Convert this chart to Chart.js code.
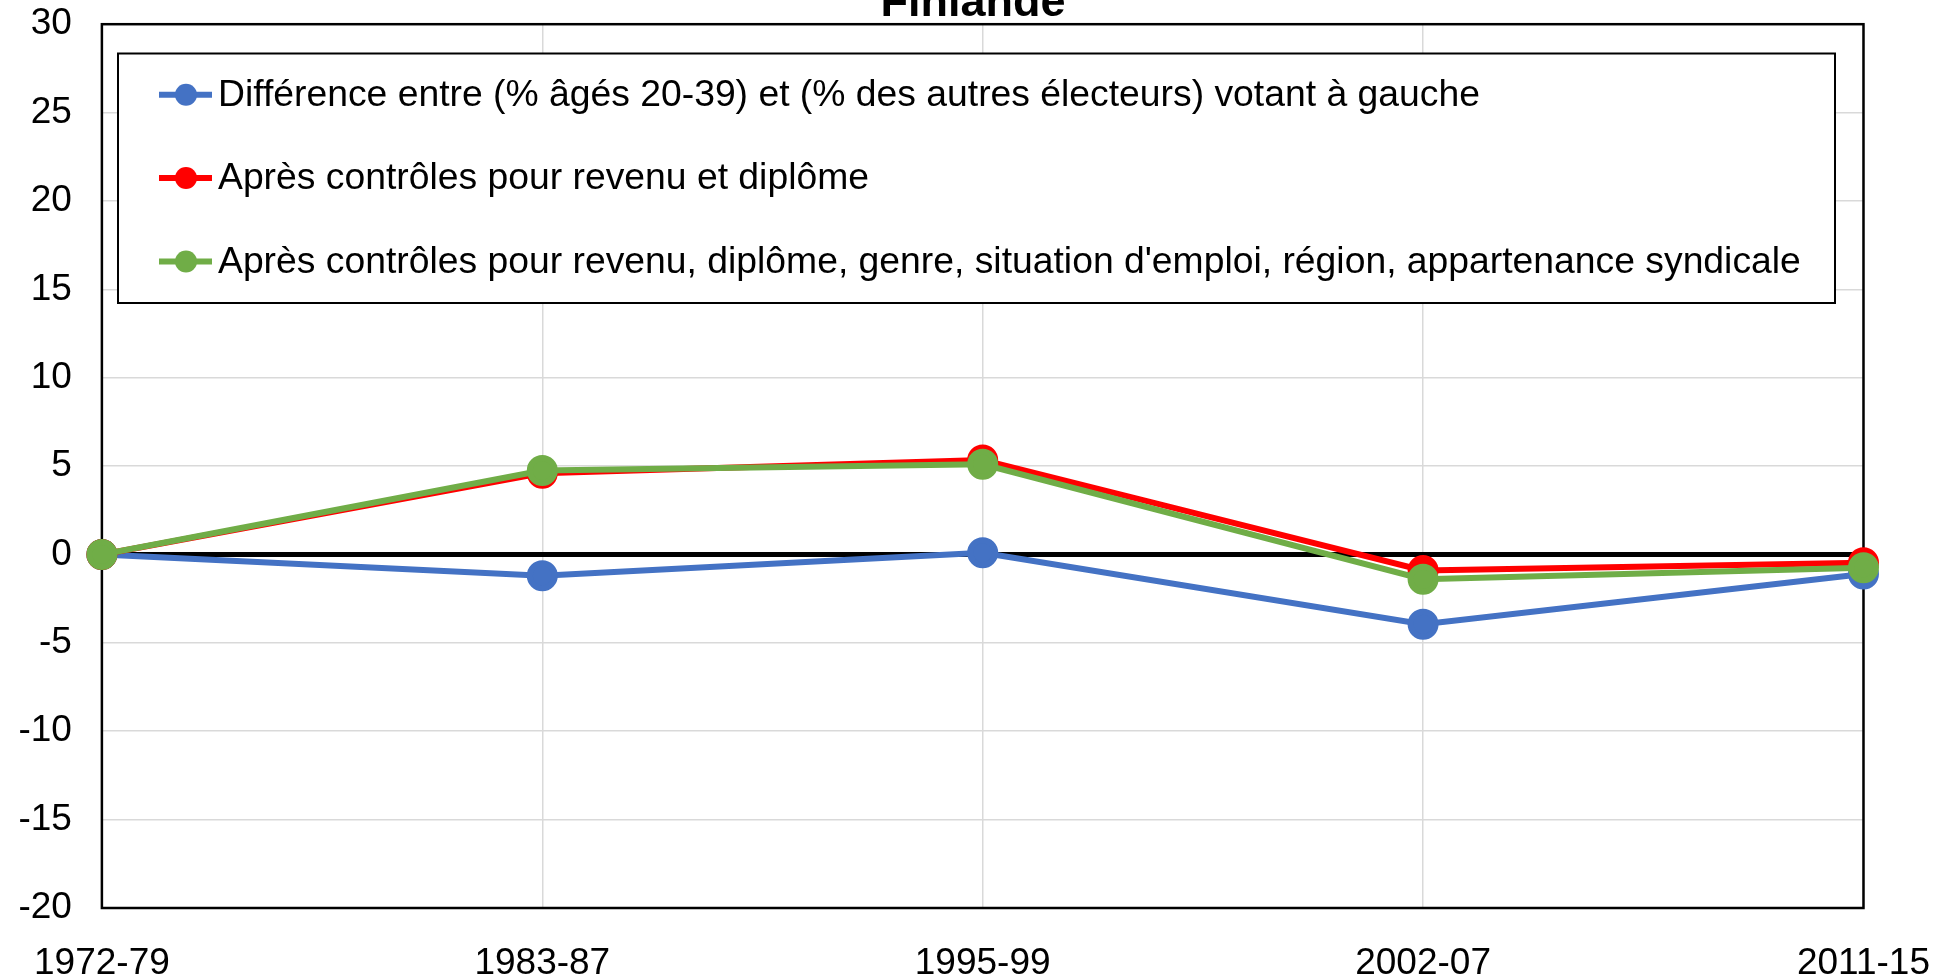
<!DOCTYPE html>
<html>
<head>
<meta charset="utf-8">
<script src="https://cdn.jsdelivr.net/npm/chart.js@4.4.1/dist/chart.umd.min.js"></script>
<style>
html,body{margin:0;padding:0;background:#fff;overflow:hidden;}
#wrap{position:absolute;left:0;top:-28px;width:1964px;height:1007px;}
</style>
</head>
<body>
<div id="wrap"><canvas id="c" width="1964" height="1007"></canvas></div>
<script>
const title = "Finlande";
const categories = ["1972-79", "1983-87", "1995-99", "2002-07", "2011-15"];
const seriesLabels = [
  "Différence entre (% âgés 20-39) et (% des autres électeurs) votant à gauche",
  "Après contrôles pour revenu et diplôme",
  "Après contrôles pour revenu, diplôme, genre, situation d'emploi, région, appartenance syndicale"
];
const blueValues  = [0, -1.2, 0.1, -3.95, -1.1];
const redValues   = [0, 4.6, 5.35, -0.9, -0.47];
const greenValues = [0, 4.75, 5.1, -1.4, -0.75];
const seriesColors = ["#4472C4", "#FF0000", "#70AD47"];
const yTicks = [-20, -15, -10, -5, 0, 5, 10, 15, 20, 25, 30];

const FONT = "'Liberation Sans', Arial, sans-serif";
const OFF = 28;

const framePlugin = {
  id: 'frame',
  beforeDatasetsDraw(chart) {
    const {ctx, chartArea: a} = chart;
    ctx.save();
    ctx.strokeStyle = '#000';
    ctx.lineWidth = 2.5;
    ctx.strokeRect(a.left, a.top, a.right - a.left, a.bottom - a.top);
    ctx.restore();
  },
  afterDraw(chart) {
    const {ctx} = chart;
    ctx.save();
    ctx.font = "bold 45px " + FONT;
    ctx.fillStyle = '#000';
    ctx.textAlign = 'center';
    ctx.textBaseline = 'alphabetic';
    ctx.fillText(title, 973, 16 + OFF);
    const bx = 118, by = 53.5 + OFF, bw = 1835 - 118, bh = 303 - 53.5;
    ctx.fillStyle = '#fff';
    ctx.fillRect(bx, by, bw, bh);
    ctx.strokeStyle = '#000';
    ctx.lineWidth = 2;
    ctx.strokeRect(bx, by, bw, bh);
    const rows = [94.7, 178, 261.5];
    chart.data.datasets.forEach((ds, i) => {
      const y = rows[i] + OFF;
      ctx.strokeStyle = ds.borderColor;
      ctx.lineWidth = 6;
      ctx.beginPath();
      ctx.moveTo(159, y);
      ctx.lineTo(212, y);
      ctx.stroke();
      ctx.fillStyle = ds.borderColor;
      ctx.beginPath();
      ctx.arc(186, y, 11, 0, Math.PI * 2);
      ctx.fill();
      ctx.fillStyle = '#000';
      ctx.font = "37.3px " + FONT;
      ctx.textAlign = 'left';
      ctx.textBaseline = 'middle';
      ctx.fillText(ds.label, 218, y + 1);
    });
    ctx.restore();
  }
};

function mkDs(label, data, color, order) {
  return {
    label, data,
    borderColor: color, backgroundColor: color,
    pointBackgroundColor: color, pointBorderColor: color,
    borderWidth: 6, pointRadius: 12.5, pointHoverRadius: 12.5,
    tension: 0, fill: false, order
  };
}

new Chart(document.getElementById('c'), {
  type: 'line',
  data: {
    labels: categories,
    datasets: [
      mkDs(seriesLabels[0], blueValues, seriesColors[0], 3),
      mkDs(seriesLabels[1], redValues, seriesColors[1], 2),
      mkDs(seriesLabels[2], greenValues, seriesColors[2], 1)
    ]
  },
  options: {
    responsive: false,
    devicePixelRatio: 1,
    animation: false,
    layout: { padding: { top: 0, right: 76, left: 0, bottom: 0 } },
    plugins: { legend: { display: false }, tooltip: { enabled: false }, title: { display: false } },
    scales: {
      x: {
        type: 'category',
        offset: false,
        grid: { color: '#d9d9d9', lineWidth: 1.5, drawTicks: false },
        border: { display: false },
        ticks: { color: '#000', font: { family: FONT, size: 37 }, padding: 34, maxRotation: 0, autoSkip: false },
        afterFit(s) { s.height = 979 - 908; }
      },
      y: {
        min: -20, max: 30,
        afterBuildTicks(s) { s.ticks = yTicks.map(v => ({ value: v })); },
        grid: {
          drawTicks: false,
          color: c => (c.tick && c.tick.value === 0) ? '#000' : '#d9d9d9',
          lineWidth: c => (c.tick && c.tick.value === 0) ? 5 : 1.5
        },
        border: { display: false },
        ticks: { color: '#000', font: { family: FONT, size: 37 }, padding: 30 },
        afterFit(s) { s.width = 101; }
      }
    }
  },
  plugins: [framePlugin]
});
</script>
</body>
</html>
